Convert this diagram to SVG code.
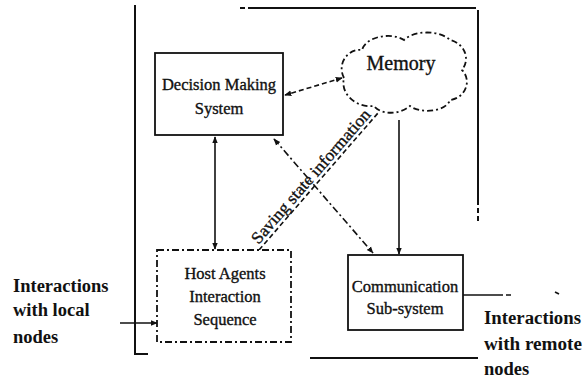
<svg xmlns="http://www.w3.org/2000/svg" width="585" height="379" viewBox="0 0 585 379">
  <defs>
    <marker id="head" viewBox="0 0 10 10" refX="9" refY="5" markerWidth="7" markerHeight="7" orient="auto-start-reverse" markerUnits="userSpaceOnUse">
      <path d="M0,1 L10,5 L0,9 Z" fill="#111"/>
    </marker>
  </defs>
  <style>
    .frame { fill: none; stroke: #111; stroke-width: 2; }
    .box { fill: #fff; stroke: #111; stroke-width: 1.8; }
    .dashdot { stroke-dasharray: 7 3 2 3; }
    .dash { stroke-dasharray: 5 3; }
    .conn { fill: none; stroke: #111; stroke-width: 1.6; }
    .lbl { font-family: "Liberation Serif", "Times New Roman", serif; fill: #111; stroke: #111; stroke-width: 0.35; text-anchor: middle; }
    .side { font-family: "Liberation Serif", "Times New Roman", serif; fill: #111; font-size: 18.5px; font-weight: bold; }
  </style>
  <rect width="585" height="379" fill="#fff"/>

  <!-- outer node boundary -->
  <g id="boundary">
    <path class="frame" d="M135,5 V354 H148"/>
    <path class="frame dash" d="M240,8 H252"/>
    <path class="frame" d="M252,8 H476"/>
    <path class="frame" d="M478,10 V200"/>
    <path class="frame dash" d="M478,200 V224"/>
    <path class="frame" d="M310,358 H478"/>
  </g>

  <g id="connectors">
    <!-- Decision Making <-> Host Agents -->
    <line class="conn" x1="215" y1="137" x2="215" y2="249" marker-start="url(#head)" marker-end="url(#head)"/>
    <!-- Memory <-> Decision Making -->
    <line class="conn dash" x1="342" y1="78" x2="285" y2="95" marker-start="url(#head)" marker-end="url(#head)"/>
    <!-- Decision Making <-> Communication -->
    <line class="conn dashdot" x1="274" y1="139" x2="373" y2="253" marker-start="url(#head)" marker-end="url(#head)"/>
    <!-- Memory -> Communication -->
    <line class="conn" x1="399" y1="120" x2="399" y2="254" marker-end="url(#head)"/>
    <!-- saving state information link -->
    <line class="conn dash" x1="259" y1="250" x2="378" y2="113"/>
    <!-- local interactions -->
    <line class="conn" x1="120" y1="323" x2="157" y2="323" marker-end="url(#head)"/>
    <!-- remote interactions -->
    <path class="conn" d="M463,295 H498"/>
    <path class="conn dash" d="M498,295 H512"/>
    <path class="conn" d="M555,292 L559,294"/>
  </g>

  <g id="memory">
    <path fill="#fff" stroke="#111" stroke-width="1.8" stroke-dasharray="6 3 2 3"
      d="M344,78 C336,62 350,48 362,50 C366,36 392,32 404,40 C414,30 440,30 450,40 C466,44 470,60 462,70 C472,80 466,98 450,100 C446,112 420,114 410,106 C398,116 380,114 374,106 C356,108 340,94 344,78 Z"/>
    <text class="lbl" x="401" y="70" font-size="20">Memory</text>
  </g>

  <g id="decision">
    <rect class="box" x="155" y="53" width="128" height="82"/>
    <text class="lbl" x="219" y="90" font-size="16.5">Decision Making</text>
    <text class="lbl" x="219" y="114" font-size="16.5">System</text>
  </g>

  <g id="host">
    <rect class="box dashdot" x="157" y="250" width="134" height="92"/>
    <text class="lbl" x="225" y="279" font-size="16.5">Host Agents</text>
    <text class="lbl" x="225" y="302" font-size="16.5">Interaction</text>
    <text class="lbl" x="225" y="325" font-size="16.5">Sequence</text>
  </g>

  <g id="communication">
    <rect class="box" x="348" y="255" width="115" height="75"/>
    <text class="lbl" x="405" y="292" font-size="16.5">Communication</text>
    <text class="lbl" x="405" y="314" font-size="16.5">Sub-system</text>
  </g>

  <text class="lbl" transform="translate(315,180) rotate(-49)" font-size="17" textLength="172" lengthAdjust="spacingAndGlyphs">Saving state information</text>

  <g id="labels">
    <text class="side" x="13" y="292">Interactions</text>
    <text class="side" x="13" y="316">with local</text>
    <text class="side" x="13" y="343">nodes</text>
    <text class="side" x="484" y="324" textLength="97" lengthAdjust="spacingAndGlyphs">Interactions</text>
    <text class="side" x="484" y="350" textLength="98" lengthAdjust="spacingAndGlyphs">with remote</text>
    <text class="side" x="484" y="375">nodes</text>
  </g>
</svg>
